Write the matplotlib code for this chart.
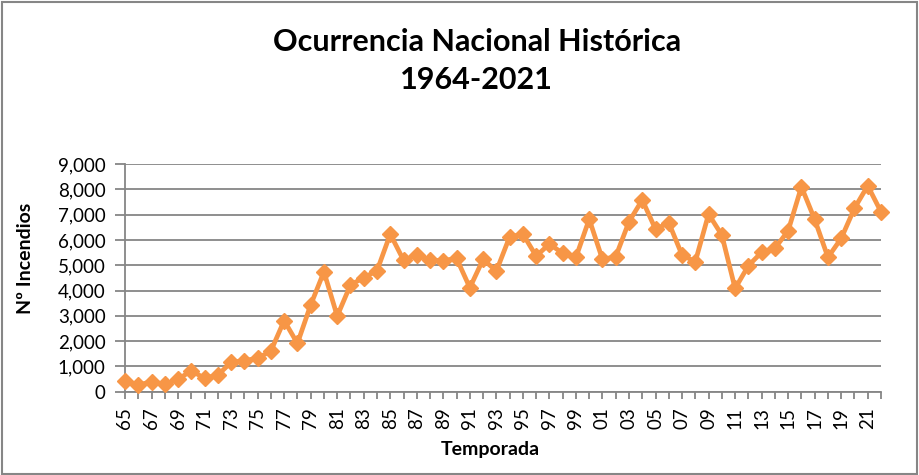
import matplotlib
matplotlib.use("Agg")
import matplotlib.pyplot as plt
from matplotlib.patches import Rectangle

seasons = ["65", "66", "67", "68", "69", "70", "71", "72", "73", "74",
           "75", "76", "77", "78", "79", "80", "81", "82", "83", "84",
           "85", "86", "87", "88", "89", "90", "91", "92", "93", "94",
           "95", "96", "97", "98", "99", "00", "01", "02", "03", "04",
           "05", "06", "07", "08", "09", "10", "11", "12", "13", "14",
           "15", "16", "17", "18", "19", "20", "21", "22"]
incendios = [430, 260, 400, 290, 490, 830, 530, 660, 1160, 1230,
             1320, 1610, 2810, 1910, 3430, 4740, 2990, 4220, 4510, 4780,
             6230, 5200, 5400, 5200, 5180, 5270, 4110, 5230, 4770, 6120,
             6230, 5360, 5840, 5470, 5310, 6820, 5230, 5340, 6720, 7580,
             6420, 6680, 5400, 5140, 7020, 6190, 4080, 4980, 5510, 5670,
             6360, 8100, 6810, 5310, 6060, 7250, 8140, 7110]
yticks = [0, 1000, 2000, 3000, 4000, 5000, 6000, 7000, 8000, 9000]

title_lines = ["Ocurrencia Nacional Histórica", "1964-2021"]
xlabel = "Temporada"
ylabel = "Nº Incendios"

plt.rcParams['font.family'] = ['Lato', 'DejaVu Sans']
grey = "#868686"
orange = "#F79646"

W, H = 920, 475
fig = plt.figure(figsize=(9.2, 4.75), dpi=100)
fig.patches.append(Rectangle((0.002, 0.003), 0.995, 0.993, transform=fig.transFigure,
                             fill=False, edgecolor=grey, linewidth=1.5))

ax = fig.add_axes([125 / W, 1 - 391.7 / H, 756 / W, 227.7 / H])
x = list(range(len(seasons)))
ax.plot(x, incendios, color=orange, linewidth=3.4, marker="D", markersize=8.5,
        markeredgecolor=orange, markerfacecolor=orange, clip_on=False, zorder=3)

ax.set_xlim(0, len(seasons) - 1)
ax.set_ylim(0, 9000)
ax.set_yticks(yticks)
ax.set_yticklabels([f"{v:,}" for v in yticks], fontsize=13.5)
ax.set_xticks(x)
ax.set_xticklabels([s if i % 2 == 0 else "" for i, s in enumerate(seasons)],
                   rotation=90, fontsize=13.5)

ax.grid(axis="y", color=grey, linewidth=1.3)
ax.set_axisbelow(True)
for side in ["top", "right"]:
    ax.spines[side].set_visible(False)
for side in ["left", "bottom"]:
    ax.spines[side].set_color(grey)
    ax.spines[side].set_linewidth(1.3)
ax.tick_params(axis="y", direction="out", length=7, width=1.3, color=grey, pad=7)
ax.tick_params(axis="x", direction="out", length=5, width=1.3, color=grey, pad=6)

fig.text(490 / W, 1 - 450 / H, xlabel, ha="center", va="center", fontsize=14,
         fontweight="bold")
fig.text(26 / W, 1 - 258 / H, ylabel, ha="center", va="center", fontsize=14,
         fontweight="bold", rotation=90)

fig.text(477 / W, 1 - 42 / H, title_lines[0], ha="center", va="center", fontsize=22,
         fontweight="bold")
fig.text(476 / W, 1 - 80 / H, title_lines[1], ha="center", va="center", fontsize=22,
         fontweight="bold")

fig.savefig("out.png", dpi=100)
